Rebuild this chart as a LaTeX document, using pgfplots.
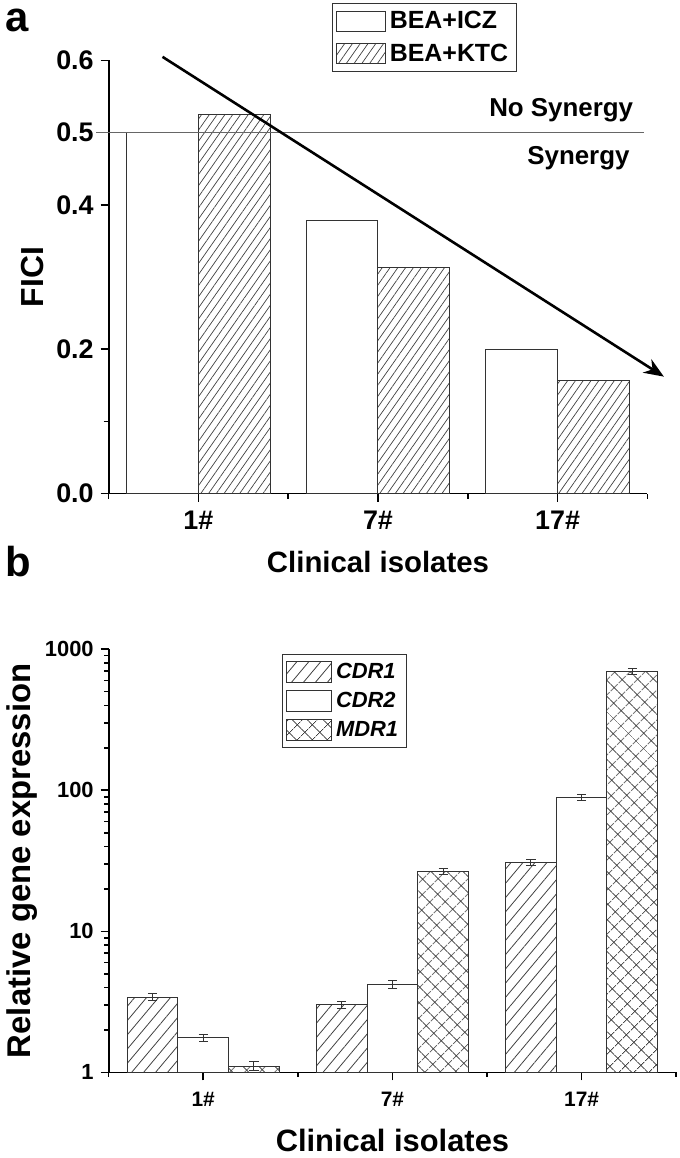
\documentclass[border=0pt]{standalone}
\usepackage{fontspec}
\setmainfont{Liberation Sans}
\usepackage{pgfplots}
\pgfplotsset{compat=1.18}
\usetikzlibrary{patterns.meta,arrows.meta}

\pgfplotsset{
  barsty/.style={draw=black!80, line width=0.5pt},
  hatchA/.style={barsty, pattern={Lines[angle=55,distance=3.2pt,line width=0.35pt]}, pattern color=black!75},
  hatchB/.style={barsty, pattern={Lines[angle=50,distance=4.6pt,line width=0.4pt]}, pattern color=black!75},
  crossB/.style={barsty, pattern={Hatch[angle=45,distance=5.4pt,line width=0.4pt]}, pattern color=black!75},
}

\begin{document}
\begin{tikzpicture}
% panel a
\begin{axis}[
  at={(0,0)}, anchor=south west,
  scale only axis, width=270.5pt, height=217.5pt,
  xmin=0.5, xmax=3.5, ymin=0, ymax=0.6,
  axis x line*=bottom, axis y line*=left,
  axis line style={-, line width=0.9pt},
  clip=false,
  ybar, bar width=0.4,
  xtick={1,2,3}, xticklabels={1\#,7\#,17\#},
  minor xtick={0.5,1.5,2.5,3.5},
  ytick={0,0.2,0.4,0.5,0.6}, minor ytick={0.1},
  tick align=outside, major tick length=4pt, minor tick length=2.5pt,
  tick style={black, line width=0.8pt},
  /pgf/number format/assume math mode=true,
  yticklabel style={/pgf/number format/.cd, fixed, fixed zerofill, precision=1},
  ticklabel style={font=\bfseries\fontsize{13.5}{13.5}\selectfont},
  xticklabel style={anchor=base, yshift=-14pt},
  xlabel={Clinical isolates}, ylabel={FICI},
  xlabel style={font=\bfseries\fontsize{14.75}{16}\selectfont, at={(axis description cs:0.5,0)}, anchor=base, yshift=-39.6pt},
  ylabel style={font=\bfseries\fontsize{16}{18}\selectfont, at={(axis description cs:0,0.5)}, anchor=center, yshift=38pt},
  legend style={at={(rel axis cs:0.414,1.133)}, anchor=north west, draw=black!80, line width=0.5pt,
    font=\bfseries\fontsize{12.5}{14}\selectfont, inner sep=2pt, row sep=2pt},
  legend cell align=left,
  legend image code/.code={\draw[#1] (0pt,-5pt) rectangle (24.5pt,5pt);},
]
\addplot[barsty, fill=white, bar shift=-0.2] coordinates {(1,0.5) (2,0.378) (3,0.2)};
\addplot[hatchA, bar shift=0.2] coordinates {(1,0.525) (2,0.313) (3,0.157)};
\legend{BEA+ICZ,BEA+KTC}
\draw[black!60, line width=0.5pt] (axis cs:0.43,0.5) -- (axis cs:3.48,0.5);
\draw[-{Stealth[length=10pt,width=8pt]}, line width=1.3pt] (axis cs:0.80,0.605) -- (axis cs:3.592,0.162);
\node[anchor=east, font=\bfseries\fontsize{13}{15}\selectfont] at (axis cs:3.46,0.531) {No Synergy};
\node[anchor=east, font=\bfseries\fontsize{13}{15}\selectfont] at (axis cs:3.44,0.464) {Synergy};
\end{axis}

% panel b
\begin{axis}[
  at={(0,-290.65pt)}, anchor=south west,
  scale only axis, width=285pt, height=212.5pt,
  xmin=0.5, xmax=3.5, ymin=1, ymax=1000, ymode=log,
  axis x line*=bottom, axis y line*=left,
  axis line style={-, line width=0.9pt},
  clip=false,
  ybar, bar width=0.268,
  xtick={1,2,3}, xticklabels={1\#,7\#,17\#},
  minor xtick={0.5,1.5,2.5,3.5},
  ytick={1,10,100,1000}, yticklabels={1,10,100,1000},
  tick align=outside, major tick length=4pt, minor tick length=2.2pt,
  tick style={black, line width=0.8pt},
  ticklabel style={font=\bfseries\fontsize{11}{11}\selectfont},
  xticklabel style={font=\bfseries\fontsize{10.5}{11}\selectfont, anchor=base, yshift=-13pt},
  xlabel={Clinical isolates}, ylabel={Relative gene expression},
  xlabel style={font=\bfseries\fontsize{15.5}{17}\selectfont, at={(axis description cs:0.5,0)}, anchor=base, yshift=-39.5pt},
  ylabel style={font=\bfseries\fontsize{16.5}{18}\selectfont, at={(axis description cs:0,0.5)}, anchor=center, yshift=43.5pt},
  legend style={at={(rel axis cs:0.305,0.988)}, anchor=north west, draw=black!80, line width=0.5pt,
    font=\bfseries\itshape\fontsize{11}{13}\selectfont, inner sep=2pt, row sep=1.5pt},
  legend cell align=left,
  legend image code/.code={\draw[#1] (0pt,-5.25pt) rectangle (22.5pt,5.25pt);},
  error bars/y dir=both, error bars/y explicit,
  error bars/error bar style={black!80, line width=0.5pt},
  error bars/error mark options={rotate=90, mark size=2.3pt, black!80, line width=0.5pt},
]
\addplot[hatchB, bar shift=-0.268] coordinates {(1,3.42) +- (0,0.19) (2,3.02) +- (0,0.18) (3,30.7) +- (0,1.6)};
\addplot[barsty, fill=white, bar shift=0] coordinates {(1,1.76) +- (0,0.10) (2,4.2) +- (0,0.26) (3,88.9) +- (0,4.5)};
\addplot[crossB, bar shift=0.268] coordinates {(1,1.11) +- (0,0.08) (2,26.5) +- (0,1.3) (3,700) +- (0,35)};
\legend{CDR1,CDR2,MDR1}
\end{axis}

\node[anchor=base west, font=\bfseries\fontsize{21}{24}\selectfont, inner sep=0pt] at (-52pt,232pt) {a};
\node[anchor=base west, font=\bfseries\fontsize{21}{24}\selectfont, inner sep=0pt] at (-52pt,-41.65pt) {b};
\path (-53.5pt,247.85pt) rectangle (286.5pt,-331.15pt);
\end{tikzpicture}
\end{document}
